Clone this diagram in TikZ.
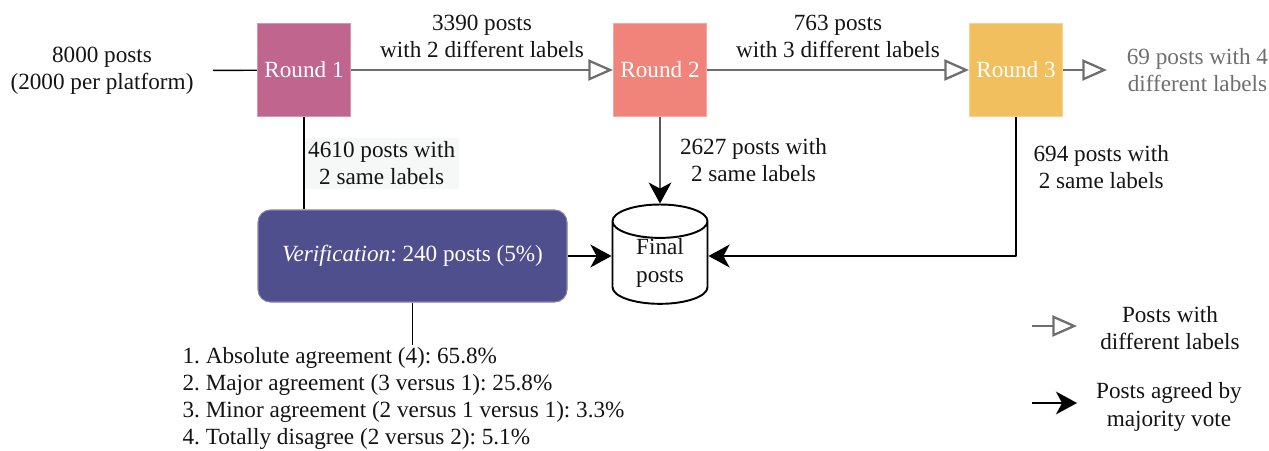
\documentclass[tikz,border=0pt]{standalone}
\usepackage{fontspec}
\setmainfont{Liberation Serif}
\usepackage{tikz}
\usetikzlibrary{arrows.meta,positioning,shapes.geometric}
\definecolor{rvRoundA}{HTML}{C0668E}
\definecolor{rvRoundB}{HTML}{F0837A}
\definecolor{rvRoundC}{HTML}{F1BF5E}
\definecolor{rvVerify}{HTML}{4E4F8C}
\definecolor{rvGrey}{HTML}{6E6E6E}
\definecolor{rvInk}{HTML}{141414}
\definecolor{rvWash}{HTML}{F6F7F7}
\frenchspacing
\tikzset{
  rv diagram/.style={font=\fontsize{13.2}{15.5}\selectfont, text=rvInk,
    line join=round},
  rv round/.style={minimum width=1.86cm, minimum height=1.86cm,
    inner sep=0pt, text=white, line width=0.6pt},
  rv verify/.style={fill=rvVerify, draw=rvVerify!70!white, rounded corners=7pt,
    text=white, minimum width=6.18cm, minimum height=1.84cm, line width=0.6pt},
  rv store/.style={cylinder, shape border rotate=90, aspect=0.7, draw=black,
    line width=1.1pt, minimum width=1.9cm, minimum height=1.86cm,
    align=center, inner sep=0pt},
  rv split/.style={-{Triangle[open, length=14pt, width=12pt, line width=1.3pt]},
    draw=rvGrey, line width=1.4pt},
  rv vote/.style={-{Stealth[length=12pt, width=13pt, inset=3.5pt]},
    draw=black, line width=0.8pt},
  rv line/.style={draw=black, line width=0.8pt},
  rv label/.style={align=center, inner sep=2pt}
}
\begin{document}
\begin{tikzpicture}[rv diagram]
\useasboundingbox (0,0) rectangle (25.38,9);
\node[rv round, fill=rvRoundA, draw=rvRoundA!70!white] (r1) at (6.08,7.60) {Round 1};
\node[rv round, fill=rvRoundB, draw=rvRoundB!70!white] (r2) at (13.20,7.60) {Round 2};
\node[rv round, fill=rvRoundC, draw=rvRoundC!70!white] (r3) at (20.32,7.60) {Round 3};
\node[rv label] (in) at (2.04,7.58) {8000 posts\\(2000 per platform)};
\node[rv label, anchor=west, text=rvGrey] (left) at (22.46,7.60) {69 posts with 4\\different labels};
\node[rv verify] (verif) at (8.25,3.88) {\textit{Verification}: 240 posts (5\%)};
\node[rv store] (final) at (13.20,3.74) {Final\\posts};
\node[anchor=north west, align=left, inner sep=1pt] (list) at (3.61,2.10)
  {1. Absolute agreement (4): 65.8\%\\
   2. Major agreement (3 versus 1): 25.8\%\\
   3. Minor agreement (2 versus 1 versus 1): 3.3\%\\
   4. Totally disagree (2 versus 2): 5.1\%};
\draw[rv line, shorten <=0.31cm] (in) -- (r1);
\draw[rv split] (r1) -- node[rv label, above=4pt] {3390 posts\\with 2 different labels} (r2);
\draw[rv split] (r2) -- node[rv label, above=4pt] {763 posts\\with 3 different labels} (r3);
\draw[rv split, shorten >=0.32cm] (r3) -- (left);
\draw[rv line] (r1) -- node[rv label, right, fill=rvWash] {4610 posts with\\2 same labels} (r1 |- verif.north);
\draw[rv vote] (r2) -- node[rv label, right=9pt] {2627 posts with\\2 same labels} (final);
\draw[rv vote] (r3.south) |- node[rv label, pos=0.18, right=7.6pt] {694 posts with\\2 same labels} (verif.east -| final.east);
\draw[rv vote] (verif.east) -- (verif.east -| final.west);
\draw[rv line] (verif) -- (verif |- list.north);
\coordinate (k1a) at (20.64,2.48);
\coordinate (k1b) at (21.54,2.48);
\draw[rv split] (k1a) -- (k1b);
\node[rv label] (k1) at (23.40,2.44) {Posts with\\different labels};
\coordinate (k2a) at (20.64,0.94);
\coordinate (k2b) at (21.54,0.94);
\draw[rv vote] (k2a) -- (k2b);
\node[rv label] (k2) at (23.38,0.86) {Posts agreed by\\majority vote};
\end{tikzpicture}
\end{document}
